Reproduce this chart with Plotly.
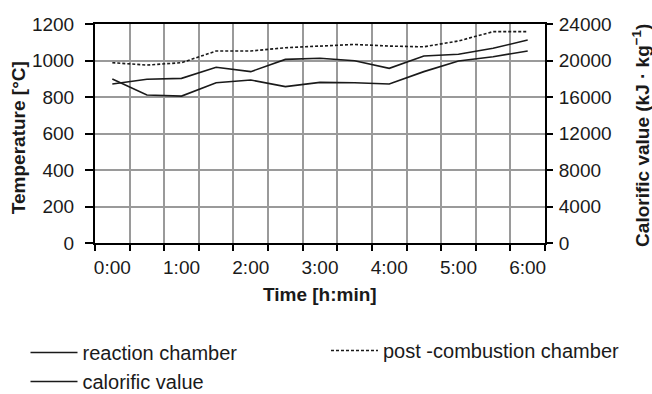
import plotly.graph_objects as go

times = ["0:00", "0:30", "1:00", "1:30", "2:00", "2:30", "3:00", "3:30",
         "4:00", "4:30", "5:00", "5:30", "6:00"]
reaction_chamber = [871, 897, 902, 963, 939, 1006, 1012, 999, 957, 1025, 1034, 1067, 1112]
post_combustion = [988, 975, 988, 1052, 1052, 1070, 1079, 1088, 1079, 1075, 1107, 1158, 1158]
calorific_value = [17980, 16220, 16100, 17560, 17860, 17140, 17600, 17560, 17420,
                   18780, 19940, 20420, 21040]
temp_ticks = [0, 200, 400, 600, 800, 1000, 1200]
cal_ticks = [0, 4000, 8000, 12000, 16000, 20000, 24000]

xpos = list(range(len(times)))
label_idx = xpos[::2]

FONT = "Arial, 'Liberation Sans', sans-serif"
INK = "#1a1a1a"

fig = go.Figure()
fig.add_trace(go.Scatter(x=xpos, y=reaction_chamber, mode="lines", name="reaction chamber",
                         line=dict(color=INK, width=1.6), legend="legend"))
fig.add_trace(go.Scatter(x=xpos, y=post_combustion, mode="lines", name="post -combustion chamber",
                         line=dict(color=INK, width=1.6, dash="3px,2px"), legend="legend2"))
fig.add_trace(go.Scatter(x=xpos, y=calorific_value, mode="lines", name="calorific value",
                         yaxis="y2", line=dict(color=INK, width=1.6), legend="legend"))

legend_common = dict(
    orientation="v", xref="container", yref="container",
    xanchor="left", yanchor="top", itemwidth=47,
    font=dict(size=20, family=FONT, color=INK),
    bgcolor="rgba(0,0,0,0)", tracegroupgap=0, traceorder="normal",
)

fig.update_layout(
    width=652, height=394,
    margin=dict(l=95, r=107, t=24, b=151, autoexpand=False),
    paper_bgcolor="white", plot_bgcolor="white",
    font=dict(family=FONT, size=19, color=INK),
    xaxis=dict(
        range=[-0.5, len(times) - 0.5], automargin=False,
        tickmode="array", tickvals=label_idx, ticktext=[times[i] for i in label_idx],
        ticks="", showgrid=False, zeroline=False,
        showline=True, linecolor="black", linewidth=2, mirror=True,
        minor=dict(tick0=-0.5, dtick=1, ticks="outside", ticklen=6, tickwidth=2,
                   tickcolor="black", showgrid=True, gridcolor="#9a9a9a", gridwidth=2),
        ticklabelstandoff=6,
        tickfont=dict(size=19),
    ),
    yaxis=dict(
        range=[0, 1200], tickmode="array", tickvals=temp_ticks,
        ticktext=[str(v) for v in temp_ticks], automargin=False,
        ticks="outside", ticklen=8, tickwidth=2, tickcolor="black",
        showgrid=True, gridcolor="#9a9a9a", gridwidth=2, zeroline=False,
        showline=True, linecolor="black", linewidth=2,
        ticklabelstandoff=7, tickfont=dict(size=19),
    ),
    yaxis2=dict(
        range=[0, 24000], tickmode="array", tickvals=cal_ticks,
        ticktext=[str(v) for v in cal_ticks], automargin=False,
        overlaying="y", side="right", anchor="x",
        ticks="outside", ticklen=6, tickwidth=2, tickcolor="black",
        showgrid=False, zeroline=False,
        showline=True, linecolor="black", linewidth=2,
        ticklabelstandoff=2, tickfont=dict(size=19),
    ),
    showlegend=True,
    legend=dict(x=25.5 / 652, y=0.155, **legend_common),
    legend2=dict(x=326 / 652, y=0.16, **legend_common),
    annotations=[
        dict(text="<b>Temperature [°C]</b>", xref="paper", yref="paper",
             x=-0.171, y=0.479, textangle=-90, showarrow=False,
             xanchor="center", yanchor="middle", font=dict(size=19)),
        dict(text="<b>Calorific value (kJ · kg<sup>−1</sup>)</b>", xref="paper", yref="paper",
             x=1.213, y=0.493, textangle=-90, showarrow=False,
             xanchor="center", yanchor="middle", font=dict(size=19)),
        dict(text="<b>Time [h:min]</b>", xref="paper", yref="paper",
             x=0.5, y=-0.237, showarrow=False,
             xanchor="center", yanchor="middle", font=dict(size=19)),
    ],
)

fig.write_html("out.html", config={"displayModeBar": False},
               post_script="document.body.style.margin='0';")
